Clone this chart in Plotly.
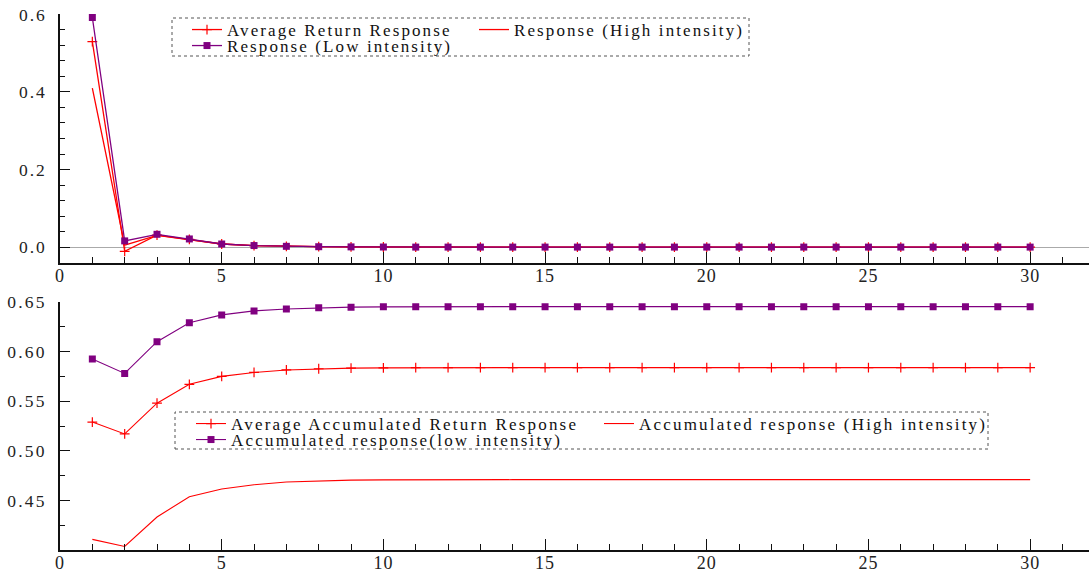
import plotly.graph_objects as go

periods = list(range(1, 31))

# Top panel: period responses
avg_return = [0.530, -0.011, 0.031, 0.020, 0.008, 0.004, 0.002, 0.001, 0.0005, 0.0002] + [0.0] * 20
resp_high = [0.410, 0.005, 0.030, 0.019, 0.008, 0.004, 0.002, 0.001, 0.0005, 0.0002] + [0.0] * 20
resp_low = [0.592, 0.016, 0.033, 0.021, 0.008, 0.004, 0.002, 0.001, 0.0005, 0.0002] + [0.0] * 20

# Bottom panel: accumulated responses
acc_avg = [0.529, 0.517, 0.548, 0.567, 0.575, 0.579, 0.5815, 0.5827, 0.5833, 0.5836] + [0.5838] * 20
acc_high = [0.4107, 0.4036, 0.4333, 0.4537, 0.4615, 0.4658, 0.4685, 0.4698, 0.4704, 0.4707] + [0.4709] * 20
acc_low = [0.5925, 0.578, 0.610, 0.629, 0.637, 0.641, 0.643, 0.6442, 0.6448, 0.6451] + [0.6453] * 20

top_ticks = [0.0, 0.2, 0.4, 0.6]
top_labels = ["0.0", "0.2", "0.4", "0.6"]
bottom_ticks = [0.45, 0.50, 0.55, 0.60, 0.65]
bottom_labels = ["0.45", "0.50", "0.55", "0.60", "0.65"]
x_ticks = [0, 5, 10, 15, 20, 25, 30]
x_labels = ["0", "5", "10", "15", "20", "25", "30"]

names_top = ["Average Return Response", "Response (High intensity)", "Response (Low intensity)"]
names_bottom = ["Average Accumulated Return Response", "Accumulated response (High intensity)",
                "Accumulated response(low intensity)"]

RED = "#ff0000"
PURPLE = "#800080"
FONT = "Liberation Serif"


def spaced(t, sp):
    return '<span style="letter-spacing:%spx">%s</span>' % (sp, t)


fig = go.Figure()

plus = dict(symbol="cross-thin", size=7, line=dict(color=RED, width=1.2), color=RED)
sq = dict(symbol="square", size=7, color=PURPLE)

fig.add_trace(go.Scatter(x=periods, y=avg_return, name=spaced(names_top[0], 2.1), mode="lines+markers",
                         line=dict(color=RED, width=1.3), marker=plus, xaxis="x", yaxis="y", legend="legend"))
fig.add_trace(go.Scatter(x=periods, y=resp_high, name=spaced(names_top[1], 2.1), mode="lines",
                         line=dict(color=RED, width=1.3), xaxis="x", yaxis="y", legend="legend2"))
fig.add_trace(go.Scatter(x=periods, y=resp_low, name=spaced(names_top[2], 2.1), mode="lines+markers",
                         line=dict(color=PURPLE, width=1.3), marker=sq, xaxis="x", yaxis="y", legend="legend3"))

fig.add_trace(go.Scatter(x=periods, y=acc_avg, name=spaced(names_bottom[0], 2.2), mode="lines+markers",
                         line=dict(color=RED, width=1.1), marker=plus, xaxis="x2", yaxis="y2", legend="legend4"))
fig.add_trace(go.Scatter(x=periods, y=acc_high, name=spaced(names_bottom[1], 2.2), mode="lines",
                         line=dict(color=RED, width=1.1), xaxis="x2", yaxis="y2", legend="legend5"))
fig.add_trace(go.Scatter(x=periods, y=acc_low, name=spaced(names_bottom[2], 2.2), mode="lines+markers",
                         line=dict(color=PURPLE, width=1.1), marker=sq, xaxis="x2", yaxis="y2", legend="legend6"))

W, H = 1089, 580
ML, MR, MT, MB = 60, 0, 14, 30
PW, PH = W - ML - MR, H - MT - MB


def px_x(p):
    return (p - ML) / PW


def px_y(p):
    return (H - MB - p) / PH


ytickfont = dict(family=FONT, size=17.5, color="#222")
xtickfont = dict(family=FONT, size=18, color="#222")
xcommon = dict(range=[0, 31.82], tickvals=x_ticks, ticktext=[spaced(t, 1) for t in x_labels],
               ticks="inside", ticklen=11, tickwidth=1.2,
               showline=True, linecolor="#111", linewidth=1.5, tickcolor="#111",
               showgrid=False, zeroline=False, tickfont=xtickfont, ticklabelstandoff=-4,
               minor=dict(dtick=1, tick0=0, ticks="inside", ticklen=6, tickcolor="#111", tickwidth=1))

legfont = dict(family=FONT, size=17, color="#111")


def leg(xp, yp):
    return dict(x=px_x(xp), y=px_y(yp), orientation="h", xanchor="left", yanchor="top",
                bgcolor="rgba(0,0,0,0)", borderwidth=0, font=legfont, itemwidth=30)


fig.update_layout(
    width=W, height=H,
    margin=dict(l=ML, r=MR, t=MT, b=MB),
    paper_bgcolor="white", plot_bgcolor="white",
    font=dict(family=FONT),
    xaxis=dict(domain=[0, 1], anchor="y", **xcommon),
    xaxis2=dict(domain=[0, 1], anchor="y2", **xcommon),
    yaxis=dict(domain=[px_y(263), 1.0], anchor="x", range=[-0.041, 0.601], tickvals=top_ticks,
               ticktext=[spaced(t, 2) for t in top_labels], ticks="inside", ticklen=10, tickwidth=1.2,
               tickcolor="#111", showline=True, linecolor="#111", linewidth=1.5, showgrid=False,
               zeroline=True, zerolinecolor="#aaaaaa", zerolinewidth=1.3,
               tickfont=ytickfont, ticklabelstandoff=8,
               minor=dict(dtick=0.04, tick0=0, ticks="inside", ticklen=5, tickcolor="#111", tickwidth=1)),
    yaxis2=dict(domain=[0, px_y(301.5)], anchor="x2", range=[0.4, 0.6505], tickvals=bottom_ticks,
                ticktext=[spaced(t, 2.2) for t in bottom_labels], ticks="inside", ticklen=10, tickwidth=1.2,
                tickcolor="#111", showline=True, linecolor="#111", linewidth=1.5, showgrid=False,
                zeroline=False, tickfont=ytickfont, ticklabelstandoff=8,
                minor=dict(dtick=0.025, tick0=0.4, ticks="inside", ticklen=5, tickcolor="#111", tickwidth=1)),
    legend=leg(187, 12),
    legend2=leg(474, 12),
    legend3=leg(187, 28),
    legend4=leg(191, 406),
    legend5=leg(599, 406),
    legend6=leg(191, 422),
    showlegend=True,
    shapes=[
        dict(type="rect", xref="paper", yref="paper", x0=px_x(172), x1=px_x(749), y0=px_y(56), y1=px_y(18),
             line=dict(color="#555", width=1, dash="dot"), fillcolor="white", layer="below"),
        dict(type="rect", xref="paper", yref="paper", x0=px_x(175), x1=px_x(988), y0=px_y(449), y1=px_y(412),
             line=dict(color="#555", width=1, dash="dot"), fillcolor="white", layer="below"),
    ],
)

post = """
document.body.style.margin = '0';
document.body.style.padding = '0';
"""

fig.write_html("out.html", post_script=post, config={"displayModeBar": False})
